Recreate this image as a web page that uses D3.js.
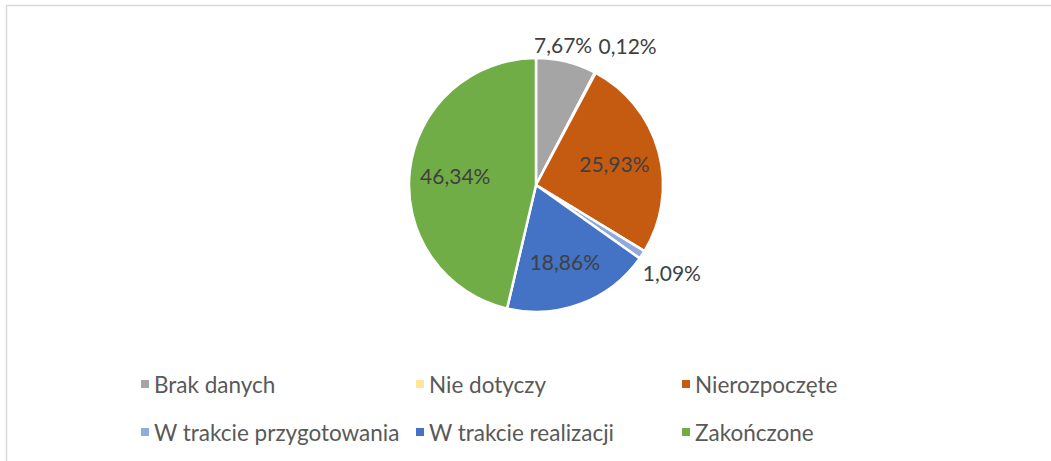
<!DOCTYPE html>
<html>
<head>
<meta charset="utf-8">
<script src="https://cdn.jsdelivr.net/npm/d3@7"></script>
<style>
  body { margin: 0; background: #fff; }
  svg { display: block; }
</style>
</head>
<body>
<div id="chart"></div>
<script>
// data
const categories = ["Brak danych", "Nie dotyczy", "Nierozpoczęte", "W trakcie przygotowania", "W trakcie realizacji", "Zakończone"];
const values = [7.67, 0.12, 25.93, 1.09, 18.86, 46.34];
const labels = ["7,67%", "0,12%", "25,93%", "1,09%", "18,86%", "46,34%"];
const colors = ["#a5a5a5", "#ffe699", "#c55a11", "#8faadc", "#4472c4", "#70ad47"];

const W = 1051, H = 461;
const cx = 536, cy = 185, R = 127;

let svg = d3.select("#chart").append("svg")
    .attr("width", W)
    .attr("height", H);

// chart area border (runs off the right and bottom edges)
svg.append("rect")
    .attr("x", 6.5).attr("y", 5.5)
    .attr("width", W + 20).attr("height", H + 20)
    .attr("fill", "#fff")
    .attr("stroke", "#d9d9d9")
    .attr("stroke-width", 1.5);

let pie = d3.pie().sort(null).value(d => d);
let arcs = pie(values);

let arc = d3.arc().innerRadius(0).outerRadius(R);

let g = svg.append("g").attr("transform", `translate(${cx},${cy})`);

g.selectAll("path")
    .data(arcs)
    .enter()
    .append("path")
    .attr("d", arc)
    .attr("fill", (d, i) => colors[i])
    .attr("stroke", "#fff")
    .attr("stroke-width", 2.5)
    .attr("stroke-linejoin", "round");

// label placement: big slices inside, small ones outside with a nudge
const inside = [false, false, true, false, true, true];
const nudge = {0: [-8, 2], 1: [23, -10], 3: [3, 0]};

function labelPos(d, i) {
    let a = (d.startAngle + d.endAngle) / 2;
    let r = inside[i] ? R * 0.64 : R + 20;
    if (i === 3) r = R + 32;
    let x = Math.sin(a) * r, y = -Math.cos(a) * r;
    if (nudge[i]) { x += nudge[i][0]; y += nudge[i][1]; }
    return [x, y];
}

g.selectAll("text.lbl")
    .data(arcs)
    .enter()
    .append("text")
    .attr("class", "lbl")
    .attr("x", (d, i) => labelPos(d, i)[0])
    .attr("y", (d, i) => labelPos(d, i)[1])
    .attr("text-anchor", "middle")
    .attr("dominant-baseline", "central")
    .style("font-family", "Lato, 'Open Sans', sans-serif")
    .style("font-size", "21px")
    .style("fill", "#404040")
    .text((d, i) => labels[i]);

// legend, 3 columns x 2 rows
const colX = [141, 416, 682];
const rowY = [384, 432];

let leg = svg.selectAll("g.leg")
    .data(categories)
    .enter()
    .append("g")
    .attr("class", "leg")
    .attr("transform", (d, i) => `translate(${colX[i % 3]},${rowY[Math.floor(i / 3)]})`);

leg.append("rect")
    .attr("x", 0).attr("y", -4)
    .attr("width", 8).attr("height", 8)
    .attr("fill", (d, i) => colors[i]);

leg.append("text")
    .attr("x", 13)
    .attr("y", 0)
    .attr("dominant-baseline", "central")
    .style("font-family", "Lato, 'Open Sans', sans-serif")
    .style("font-size", "22.5px")
    .style("fill", "#595959")
    .text(d => d);
</script>
</body>
</html>
